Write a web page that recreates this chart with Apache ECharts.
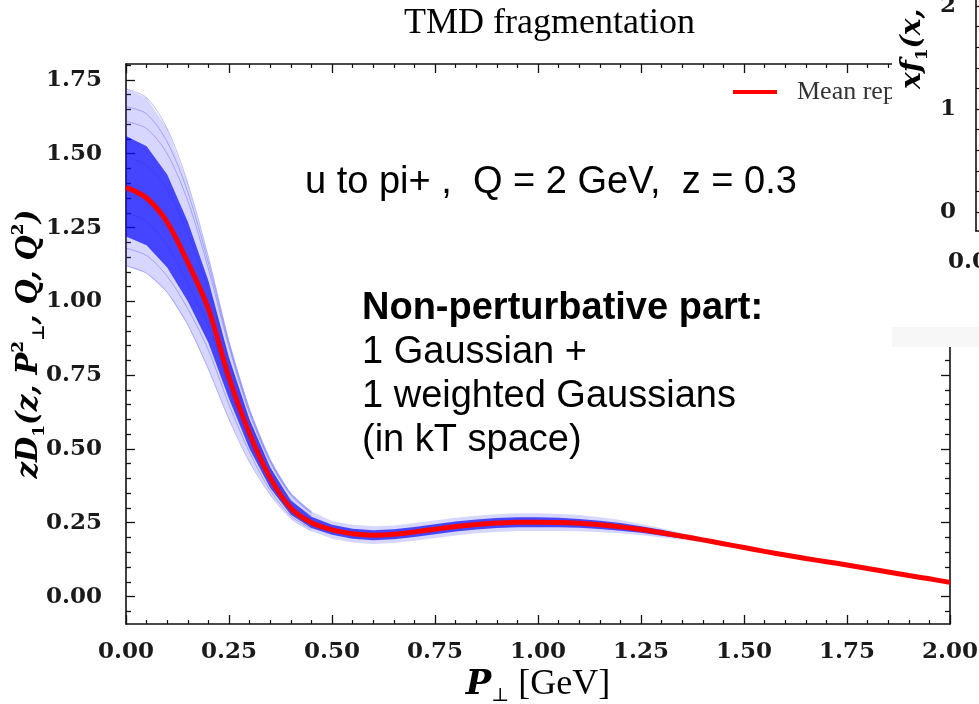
<!DOCTYPE html>
<html>
<head>
<meta charset="utf-8">
<script src="https://cdn.jsdelivr.net/npm/echarts@6/dist/echarts.min.js"></script>
<style>
  html, body { margin: 0; padding: 0; background: #fff; }
  #chart { width: 979px; height: 704px; }
</style>
</head>
<body>
<div id="chart"></div>
<script>
// Transverse momentum grid P_perp [GeV]
const pPerp = [0.00, 0.05, 0.10, 0.15, 0.20, 0.25, 0.30, 0.35, 0.40, 0.45,
               0.50, 0.55, 0.60, 0.65, 0.70, 0.75, 0.80, 0.85, 0.90, 0.95,
               1.00, 1.05, 1.10, 1.15, 1.20, 1.25, 1.30, 1.35, 1.40, 1.45,
               1.50, 1.55, 1.60, 1.65, 1.70, 1.75, 1.80, 1.85, 1.90, 1.95, 2.00];

// Mean over replicas of z D1(z, P_perp^2, Q, Q^2)
const meanReplica = [1.386, 1.350, 1.268, 1.132, 0.975, 0.742, 0.552, 0.402, 0.300, 0.250,
                     0.226, 0.213, 0.208, 0.211, 0.219, 0.228, 0.237, 0.244, 0.249, 0.252,
                     0.252, 0.251, 0.248, 0.243, 0.236, 0.227, 0.216, 0.204, 0.192, 0.179,
                     0.166, 0.153, 0.141, 0.129, 0.118, 0.107, 0.095, 0.083, 0.071, 0.060, 0.048];

// Envelope of all replicas
const outerUpper = [1.720, 1.690, 1.585, 1.400, 1.150, 0.865, 0.635, 0.465, 0.350, 0.288,
                    0.256, 0.243, 0.238, 0.241, 0.249, 0.258, 0.267, 0.274, 0.279, 0.282,
                    0.282, 0.280, 0.276, 0.269, 0.259, 0.246, 0.231, 0.215, 0.200, 0.185,
                    0.170, 0.156, 0.143, 0.131, 0.119, 0.108, 0.096, 0.084, 0.072, 0.061, 0.049];
const outerLower = [1.120, 1.095, 1.030, 0.920, 0.770, 0.600, 0.455, 0.345, 0.265, 0.222,
                    0.196, 0.183, 0.178, 0.181, 0.189, 0.198, 0.207, 0.214, 0.219, 0.222,
                    0.222, 0.222, 0.221, 0.218, 0.214, 0.208, 0.200, 0.192, 0.183, 0.173,
                    0.162, 0.150, 0.139, 0.127, 0.117, 0.106, 0.094, 0.082, 0.070, 0.059, 0.047];

// Region where most replicas lie
const innerUpper = [1.560, 1.525, 1.430, 1.270, 1.070, 0.810, 0.600, 0.438, 0.325, 0.270,
                    0.243, 0.230, 0.225, 0.228, 0.236, 0.245, 0.254, 0.261, 0.266, 0.269,
                    0.269, 0.267, 0.263, 0.257, 0.249, 0.238, 0.226, 0.211, 0.197, 0.182,
                    0.168, 0.154, 0.142, 0.130, 0.119, 0.108, 0.096, 0.084, 0.072, 0.061, 0.049];
const innerLower = [1.220, 1.190, 1.115, 1.000, 0.860, 0.670, 0.500, 0.368, 0.277, 0.232,
                    0.209, 0.196, 0.191, 0.194, 0.202, 0.211, 0.220, 0.227, 0.232, 0.235,
                    0.235, 0.235, 0.233, 0.229, 0.223, 0.216, 0.206, 0.197, 0.187, 0.176,
                    0.164, 0.152, 0.140, 0.128, 0.117, 0.106, 0.094, 0.082, 0.070, 0.059, 0.047];

// Individual replicas on the low-P_perp side (0 .. 0.45 GeV)
const replica1 = [1.720, 1.690, 1.585, 1.400, 1.150, 0.865, 0.635, 0.465, 0.350, 0.288];
const replica2 = [1.660, 1.635, 1.540, 1.370, 1.130, 0.855, 0.628, 0.460, 0.347, 0.285];
const replica3 = [1.610, 1.585, 1.500, 1.340, 1.110, 0.845, 0.620, 0.455, 0.343, 0.282];
const replica4 = [1.490, 1.460, 1.380, 1.230, 1.040, 0.800, 0.590, 0.435, 0.328, 0.273];
const replica5 = [1.300, 1.270, 1.190, 1.060, 0.920, 0.710, 0.530, 0.390, 0.292, 0.243];
const replica6 = [1.180, 1.155, 1.085, 0.975, 0.835, 0.650, 0.488, 0.360, 0.273, 0.230];
const replica7 = [1.120, 1.095, 1.030, 0.920, 0.770, 0.600, 0.455, 0.345, 0.265, 0.222];

// Axis ticks
const yMajorTicks = [0.00, 0.25, 0.50, 0.75, 1.00, 1.25, 1.50, 1.75];
const yMinorTicks = [];
for (let k = -1; k <= 36; k++) if (k % 5 !== 0) yMinorTicks.push(+(k * 0.05).toFixed(2));
const sideMajorTicks = [0, 1, 2];
const sideMinorTicks = [0.2, 0.4, 0.6, 0.8, 1.2, 1.4, 1.6, 1.8];

const tickFont = { fontFamily: 'DejaVu Serif', fontWeight: 'bold', fontSize: 23, color: '#1a1a1a' };
const axisInk = '#111';

function pairs(xs, ys) { return ys.map((y, i) => [xs[i], y]); }

function band(upper, lower, color) {
  return {
    type: 'custom', xAxisIndex: 0, yAxisIndex: 0, silent: true, z: 2,
    data: [[0, 0]],
    renderItem: function (params, api) {
      const pts = [];
      for (let i = 0; i < pPerp.length; i++) pts.push(api.coord([pPerp[i], upper[i]]));
      for (let i = pPerp.length - 1; i >= 0; i--) pts.push(api.coord([pPerp[i], lower[i]]));
      return { type: 'polygon', shape: { points: pts }, style: { fill: color } };
    }
  };
}

function replicaLine(vals) {
  return {
    type: 'line', xAxisIndex: 0, yAxisIndex: 0, silent: true, z: 3,
    data: pairs(pPerp, vals), smooth: 0.3, symbol: 'none',
    lineStyle: { color: 'rgba(40,40,255,0.3)', width: 1 }
  };
}

function mainX(pos) {
  return {
    type: 'value', gridIndex: 0, position: pos, min: 0, max: 2, interval: 0.25,
    axisLine: { show: true, onZero: false, lineStyle: { color: axisInk, width: 1.6 } },
    axisTick: { show: true, inside: true, length: 9, lineStyle: { color: axisInk, width: 1.3 } },
    minorTick: { show: true, splitNumber: 5, length: 4, lineStyle: { color: axisInk, width: 1.2 } },
    splitLine: { show: false },
    axisLabel: pos === 'bottom'
      ? Object.assign({ show: true, margin: 17, formatter: v => v.toFixed(2) }, tickFont)
      : { show: false }
  };
}

function mainY(pos, ticks, len, withLine, withLabels) {
  return {
    type: 'value', gridIndex: 0, position: pos, min: -0.093, max: 1.804,
    axisLine: { show: withLine, onZero: false, lineStyle: { color: axisInk, width: 1.6 } },
    axisTick: { show: true, inside: true, length: len, customValues: ticks, lineStyle: { color: axisInk, width: 1.3 } },
    splitLine: { show: false },
    axisLabel: withLabels
      ? Object.assign({ show: true, margin: 24, customValues: ticks, formatter: v => v.toFixed(2) }, tickFont)
      : { show: false }
  };
}

const chart = echarts.init(document.getElementById('chart'), null, { renderer: 'canvas' });

const yLeft = mainY('left', yMajorTicks, 9, true, true);
yLeft.name = '{i|zD}{s|1}{i|(z, P}{p|2}{s|⊥}{i|, Q, Q}{p|2}{i|)}';
yLeft.nameLocation = 'middle';
yLeft.nameRotate = 90;
yLeft.nameGap = 78;
yLeft.nameMoveOverlap = false;
yLeft.nameTextStyle = {
  rich: {
    i: { fontFamily: 'DejaVu Serif', fontStyle: 'italic', fontWeight: 'bold', fontSize: 29, color: '#000', lineHeight: 38 },
    s: { fontFamily: 'DejaVu Serif', fontWeight: 'bold', fontSize: 17, color: '#000', verticalAlign: 'bottom' },
    p: { fontFamily: 'DejaVu Serif', fontWeight: 'bold', fontSize: 17, color: '#000', verticalAlign: 'top' }
  }
};

const xBottom = mainX('bottom');
xBottom.name = '{i|P}{s|⊥}{r| [GeV]}';
xBottom.nameLocation = 'middle';
xBottom.nameGap = 40;
xBottom.nameMoveOverlap = false;
xBottom.nameTextStyle = {
  rich: {
    i: { fontFamily: 'DejaVu Serif', fontStyle: 'italic', fontWeight: 'bold', fontSize: 34, color: '#000', lineHeight: 42 },
    s: { fontFamily: 'DejaVu Serif', fontSize: 19, color: '#000', verticalAlign: 'bottom' },
    r: { fontFamily: 'Liberation Serif', fontSize: 36, color: '#000', lineHeight: 42 }
  }
};

const option = {
  animation: false,
  backgroundColor: '#fff',
  title: {
    text: 'TMD fragmentation', left: 404, top: 6, padding: 0,
    textStyle: { fontFamily: 'Liberation Serif', fontWeight: 'normal', fontSize: 36, color: '#000' }
  },
  legend: {
    data: ['Mean replica'], left: 733, top: 79, padding: 0,
    icon: 'rect', itemWidth: 44, itemHeight: 4,
    textStyle: { fontFamily: 'Liberation Serif', fontSize: 26, color: '#333', padding: [0, 0, 0, 15] }
  },
  grid: [
    { left: 126, top: 64, width: 824, height: 560, outerBoundsMode: 'none', containLabel: false },
    { left: 976, top: 0, width: 20, height: 231, outerBoundsMode: 'none', containLabel: false }
  ],
  xAxis: [
    xBottom,
    mainX('top'),
    {
      type: 'value', gridIndex: 1, position: 'bottom', min: 0, max: 1, z: 100,
      axisLine: { show: true, onZero: false, lineStyle: { color: axisInk, width: 1.6 } },
      axisTick: { show: false },
      splitLine: { show: false },
      axisLabel: Object.assign({ show: true, margin: 20, customValues: [0], formatter: v => v.toFixed(2) }, tickFont)
    }
  ],
  yAxis: [
    yLeft,
    mainY('left', yMinorTicks, 5, false, false),
    mainY('right', yMajorTicks, 9, true, false),
    mainY('right', yMinorTicks, 5, false, false),
    {
      type: 'value', gridIndex: 1, position: 'left', min: -0.184, max: 2.058, z: 100,
      axisLine: { show: true, onZero: false, lineStyle: { color: axisInk, width: 1.6 } },
      axisTick: { show: true, inside: true, length: 8, customValues: sideMajorTicks, lineStyle: { color: axisInk, width: 1.3 } },
      splitLine: { show: false },
      axisLabel: Object.assign({ show: true, margin: 20, customValues: sideMajorTicks, formatter: v => String(v) }, tickFont)
    },
    {
      type: 'value', gridIndex: 1, position: 'left', min: -0.184, max: 2.058, z: 100,
      axisLine: { show: false, onZero: false },
      axisTick: { show: true, inside: true, length: 5, customValues: sideMinorTicks, lineStyle: { color: axisInk, width: 1.2 } },
      splitLine: { show: false },
      axisLabel: { show: false }
    }
  ],
  series: [
    band(outerUpper, outerLower, 'rgba(70,70,255,0.22)'),
    band(innerUpper, innerLower, 'rgba(0,0,255,0.68)'),
    replicaLine(replica1),
    replicaLine(replica2),
    replicaLine(replica3),
    replicaLine(replica4),
    replicaLine(replica5),
    replicaLine(replica6),
    replicaLine(replica7),
    {
      name: 'Mean replica', type: 'line', xAxisIndex: 0, yAxisIndex: 0, z: 5,
      data: pairs(pPerp, meanReplica), smooth: 0.3, symbol: 'none',
      itemStyle: { color: '#ff0000' },
      lineStyle: { color: '#ff0000', width: 5 }
    }
  ],
  graphic: [
    {
      type: 'text', x: 305, y: 183, z: 10,
      style: { text: 'u to pi+ ,  Q = 2 GeV,  z = 0.3', font: '38px "Liberation Sans"', fill: '#000',
               align: 'left', verticalAlign: 'middle', textAlign: 'left', textVerticalAlign: 'middle' }
    },
    {
      type: 'text', x: 362, y: 309, z: 10,
      style: { text: 'Non-perturbative part:', font: 'bold 38px "Liberation Sans"', fill: '#000',
               align: 'left', verticalAlign: 'middle', textAlign: 'left', textVerticalAlign: 'middle' }
    },
    {
      type: 'text', x: 362, y: 353, z: 10,
      style: { text: '1 Gaussian +', font: '38px "Liberation Sans"', fill: '#000',
               align: 'left', verticalAlign: 'middle', textAlign: 'left', textVerticalAlign: 'middle' }
    },
    {
      type: 'text', x: 362, y: 397, z: 10,
      style: { text: '1 weighted Gaussians', font: '38px "Liberation Sans"', fill: '#000',
               align: 'left', verticalAlign: 'middle', textAlign: 'left', textVerticalAlign: 'middle' }
    },
    {
      type: 'text', x: 362, y: 441, z: 10,
      style: { text: '(in kT space)', font: '38px "Liberation Sans"', fill: '#000',
               align: 'left', verticalAlign: 'middle', textAlign: 'left', textVerticalAlign: 'middle' }
    },
    // neighbouring panel that overlaps the top-right corner
    { type: 'rect', z: 50, shape: { x: 892, y: 0, width: 87, height: 327 }, style: { fill: '#ffffff' } },
    { type: 'rect', z: 50, shape: { x: 892, y: 327, width: 87, height: 20 }, style: { fill: '#f7f7f7' } },
    {
      type: 'text', x: 931, y: 89, rotation: Math.PI / 2, z: 60,
      style: {
        text: '{i|xf}{s|1}{i|(x, Q}{p|2}{i|)}',
        align: 'left', verticalAlign: 'bottom', textAlign: 'left', textVerticalAlign: 'bottom',
        rich: {
          i: { fontFamily: 'DejaVu Serif', fontStyle: 'italic', fontWeight: 'bold', fontSize: 28, fill: '#000', lineHeight: 36 },
          s: { fontFamily: 'DejaVu Serif', fontWeight: 'bold', fontSize: 17, fill: '#000', verticalAlign: 'bottom' },
          p: { fontFamily: 'DejaVu Serif', fontWeight: 'bold', fontSize: 17, fill: '#000', verticalAlign: 'top' }
        }
      }
    }
  ]
};

chart.setOption(option);
</script>
</body>
</html>
